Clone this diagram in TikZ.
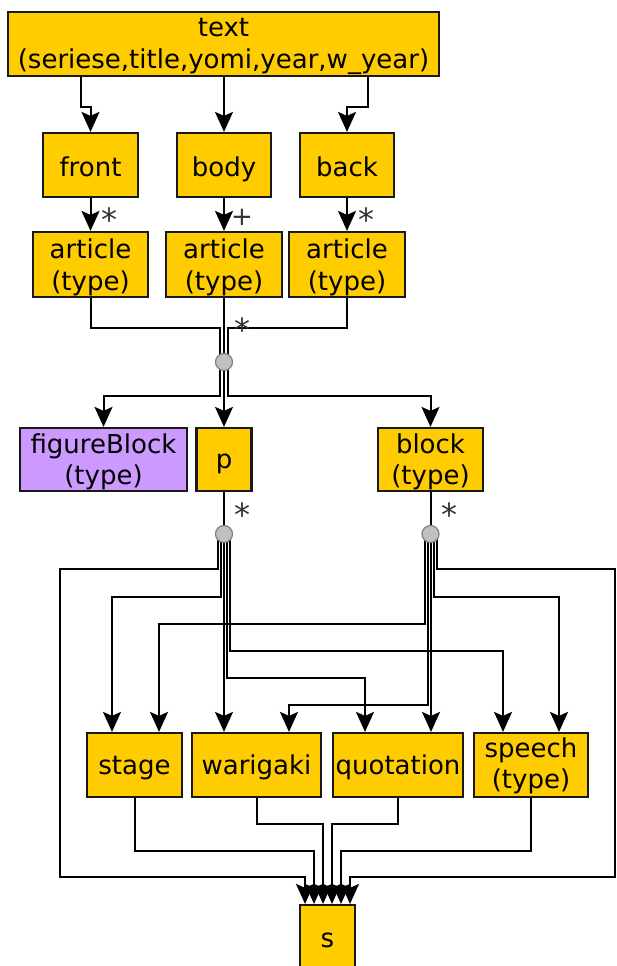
\documentclass[tikz,border=0pt]{standalone}
\usepackage{fontspec}
\setmainfont{DejaVu Sans}
\usetikzlibrary{arrows.meta}
\definecolor{gold}{HTML}{FFCC00}
\definecolor{lav}{HTML}{CC99FF}
\definecolor{jgray}{HTML}{C0C0C0}
\pgfdeclarelayer{bg}
\pgfsetlayers{bg,main}
\newcommand{\multstar}{\raisebox{-12pt}[14pt][0pt]{*}}
\begin{document}
\begin{tikzpicture}[x=1pt,y=-1pt,
  box/.style={draw=black!90,line width=2.2pt,fill=gold,inner sep=0pt,align=center,
    font=\fontsize{26}{31.5}\selectfont,text=black},
  tall/.style={text height=#1,text depth=0pt},
  conn/.style={line width=2pt,draw=black},
  arr/.style={conn,-{Stealth[length=20pt,width=18pt,inset=4pt]}},
  junc/.style={circle,fill=jgray,draw=gray,line width=1.2pt,minimum size=17pt,inner sep=0pt},
  mult/.style={font=\fontsize{32}{32}\selectfont,text=black!80,inner sep=0pt}
]
\useasboundingbox (0,0) rectangle (616,966);
% boxes
\node[box,tall=48pt,minimum width=431pt,minimum height=64pt] (text) at (223.5,44) {text\\(seriese,title,yomi,year,w\_year)};
\node[box,tall=22pt,minimum width=95pt,minimum height=64pt] (front) at (90.5,165) {front};
\node[box,tall=22pt,minimum width=94pt,minimum height=64pt] (body) at (224,165) {body};
\node[box,tall=22pt,minimum width=94pt,minimum height=64pt] (back) at (347,165) {back};
\node[box,tall=51pt,minimum width=115pt,minimum height=65pt] (art1) at (90.5,264.5) {article\\(type)};
\node[box,tall=51pt,minimum width=116pt,minimum height=65pt] (art2) at (224,264.5) {article\\(type)};
\node[box,tall=51pt,minimum width=116pt,minimum height=65pt] (art3) at (347,264.5) {article\\(type)};
\node[box,tall=50pt,fill=lav,minimum width=167pt,minimum height=63pt] (fig) at (103.5,459.5) {figureBlock\\(type)};
\node[box,tall=18pt,minimum width=55pt,minimum height=63pt] (p) at (224,459.5) {p};
\node[box,tall=50pt,minimum width=105pt,minimum height=63pt] (block) at (430.5,459.5) {block\\(type)};
\node[box,tall=18pt,minimum width=95pt,minimum height=64pt] (stage) at (134.5,765) {stage};
\node[box,tall=18pt,minimum width=129pt,minimum height=64pt] (wari) at (256.5,765) {warigaki};
\node[box,tall=18pt,minimum width=130pt,minimum height=64pt] (quot) at (398,765) {quotation};
\node[box,tall=47pt,minimum width=114pt,minimum height=64pt] (speech) at (531,765) {speech\\(type)};
\node[box,tall=14pt,minimum width=55pt,minimum height=70pt] (s) at (327.5,940) {s};
% junctions
\node[junc] (j1) at (224,362) {};
\node[junc] (j2) at (224,534) {};
\node[junc] (j3) at (430.5,534) {};
\coordinate (wl) at (60,877);
\coordinate (wr) at (615,877);
% multiplicities
\node[mult] (m1) at (109,212) {\multstar};
\node[mult,font=\fontsize{26}{26}\selectfont] (m2) at (242,217) {+};
\node[mult] (m3) at (366,212) {\multstar};
\node[mult] (m4) at (242,322) {\multstar};
\node[mult] (m5) at (242,507) {\multstar};
\node[mult] (m6) at (449,507) {\multstar};
\begin{pgfonlayer}{bg}
\draw[arr] ([xshift=-142.5pt]text.south) -- ++(0,30) -| (front.north);
\draw[arr] ([xshift=0.5pt]text.south) -- (body.north);
\draw[arr] ([xshift=144.5pt]text.south) -- ++(0,30) -| (back.north);
\draw[arr] (front.south) -- (art1.north);
\draw[arr] (body.south) -- (art2.north);
\draw[arr] (back.south) -- (art3.north);
\draw[conn] (art1.south) -- ++(0,30) -| ([xshift=-4pt]j1.center);
\draw[conn] (art2.south) -- (j1.center);
\draw[conn] (art3.south) -- ++(0,30) -| ([xshift=4pt]j1.center);
\draw[arr] ([xshift=-4pt]j1.center) -- ++(0,34) -| (fig.north);
\draw[arr] (j1.center) -- (p.north);
\draw[arr] ([xshift=4pt]j1.center) -- ++(0,34) -| (block.north);
\draw[conn] (p.south) -- (j2.center);
\draw[conn] (block.south) -- (j3.center);
% from p
\draw[arr] ([xshift=-6pt]j2.center) -- ++(0,35) -| (wl) -| ([xshift=-22.5pt]s.north);
\draw[arr] ([xshift=-3pt]j2.center) -- ++(0,63) -| ([xshift=-22.5pt]stage.north);
\draw[arr] (j2.center) -- ([xshift=-32.5pt]wari.north);
\draw[arr] ([xshift=3pt]j2.center) -- ++(0,144) -| ([xshift=-33pt]quot.north);
\draw[arr] ([xshift=6pt]j2.center) -- ++(0,117) -| ([xshift=-28pt]speech.north);
% from block
\draw[arr] ([xshift=-5.5pt]j3.center) -- ++(0,90) -| ([xshift=24.5pt]stage.north);
\draw[arr] ([xshift=-2.5pt]j3.center) -- ++(0,171) -| ([xshift=32.5pt]wari.north);
\draw[arr] ([xshift=0.5pt]j3.center) -- ([xshift=33pt]quot.north);
\draw[arr] ([xshift=3.5pt]j3.center) -- ++(0,63) -| ([xshift=28pt]speech.north);
\draw[arr] ([xshift=6.5pt]j3.center) -- ++(0,35) -| (wr) -| ([xshift=22.5pt]s.north);
% into s
\draw[arr] (stage.south) -- ++(0,53) -| ([xshift=-13.5pt]s.north);
\draw[arr] (wari.south) -- ++(0,26) -| ([xshift=-4.5pt]s.north);
\draw[arr] (quot.south) -- ++(0,26) -| ([xshift=4.5pt]s.north);
\draw[arr] (speech.south) -- ++(0,53) -| ([xshift=13.5pt]s.north);
\end{pgfonlayer}
\end{tikzpicture}
\end{document}
